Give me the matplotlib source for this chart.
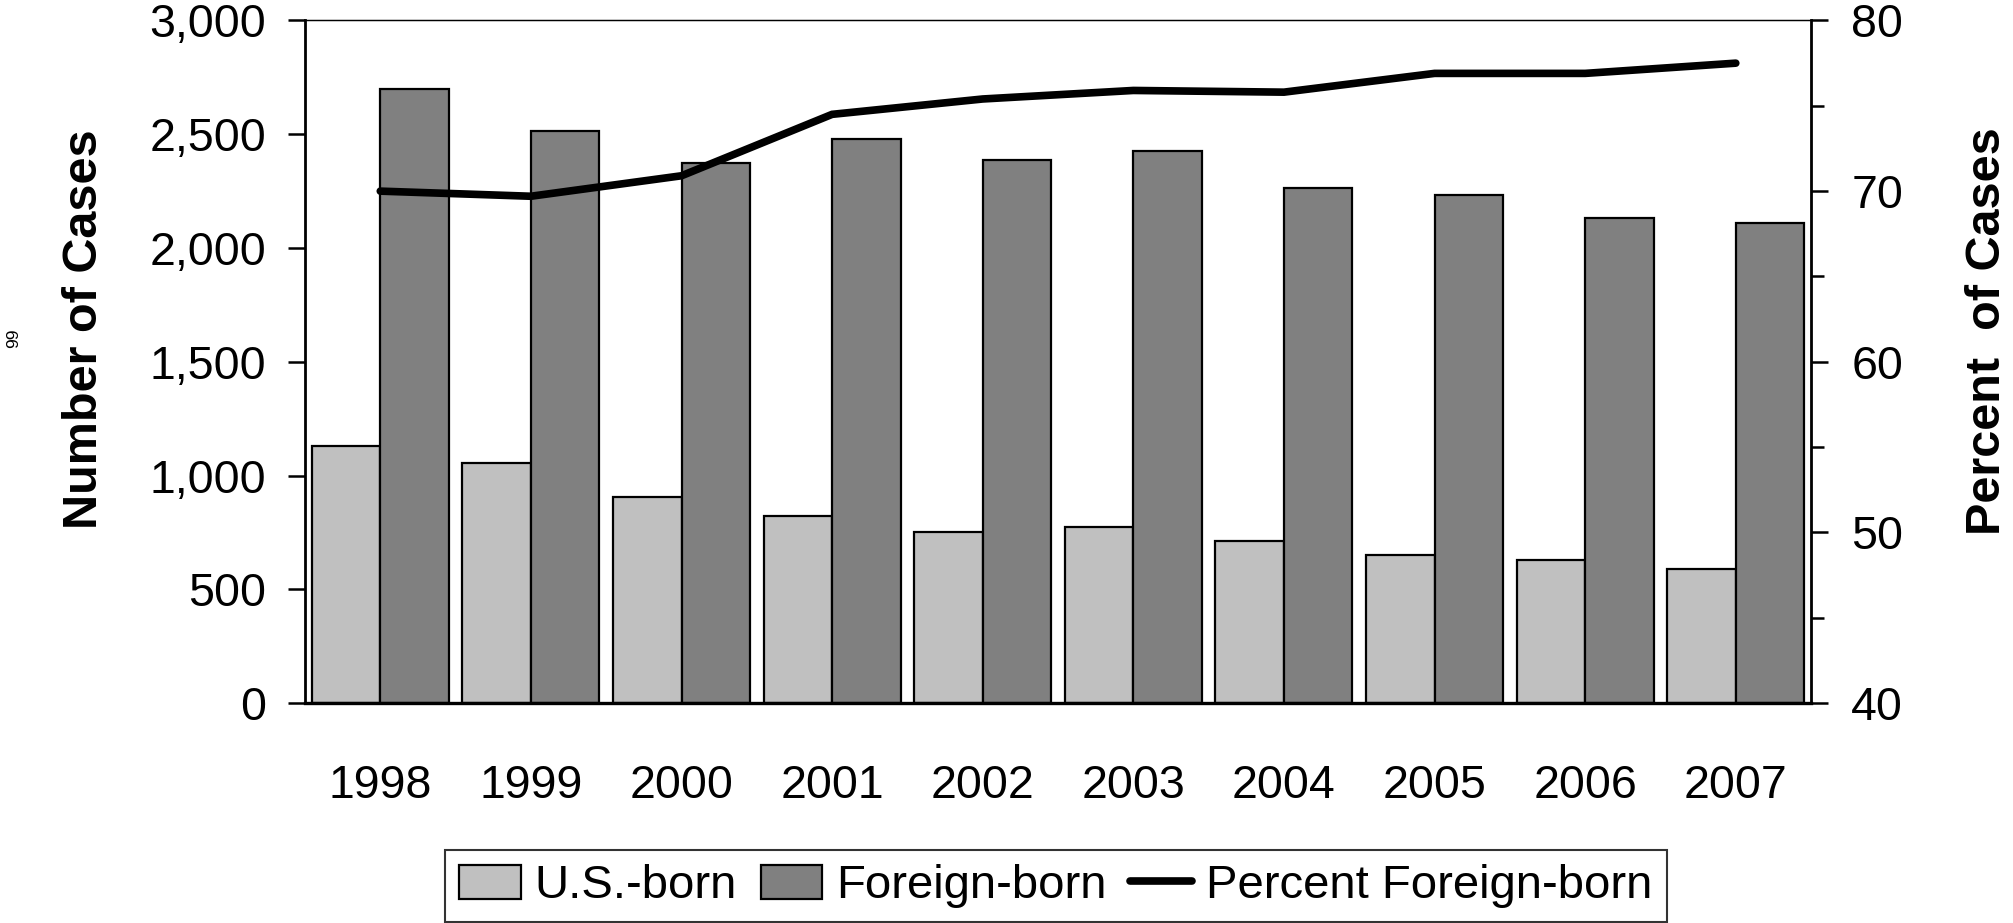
import numpy as np
import matplotlib
matplotlib.use("Agg")
import matplotlib.pyplot as plt
from matplotlib.ticker import FuncFormatter, MultipleLocator

plt.rcParams['font.family'] = ['Liberation Sans', 'DejaVu Sans']

# Data
years = ['1998', '1999', '2000', '2001', '2002', '2003', '2004', '2005', '2006', '2007']
us_born = [1128, 1056, 904, 823, 750, 772, 712, 650, 629, 588]
foreign_born = [2701, 2514, 2373, 2478, 2387, 2427, 2264, 2234, 2131, 2111]
pct_foreign = [70.0, 69.7, 70.9, 74.5, 75.4, 75.9, 75.8, 76.9, 76.9, 77.5]

fig = plt.figure(figsize=(20.13, 9.23), dpi=100)
ax = fig.add_axes([0.1515, 0.2383, 0.7482, 0.7395])
ax2 = ax.twinx()

x = np.arange(len(years))
w = 0.455
ax.bar(x - w / 2, us_born, w, color='#C0C0C0', edgecolor='black', linewidth=1.6,
       label='U.S.-born', zorder=2)
ax.bar(x + w / 2, foreign_born, w, color='#808080', edgecolor='black', linewidth=1.6,
       label='Foreign-born', zorder=2)
line, = ax2.plot(x, pct_foreign, color='black', linewidth=5.5, solid_capstyle='round',
                 solid_joinstyle='miter', label='Percent Foreign-born')

ax.set_xlim(-0.5, len(years) - 0.5)
ax.set_ylim(0, 3000)
ax2.set_ylim(40, 80)

ax.set_yticks(np.arange(0, 3001, 500))
ax.yaxis.set_major_formatter(FuncFormatter(lambda v, p: f'{int(v):,}'))
ax2.set_yticks(np.arange(40, 81, 10))
ax2.yaxis.set_minor_locator(MultipleLocator(5))

ax.set_xticks(x)
ax.set_xticklabels(years)
ax.tick_params(axis='x', length=0, pad=44, labelsize=33.5)
ax.tick_params(axis='y', direction='out', length=12, width=1.8, pad=16, labelsize=33.5)
ax2.tick_params(axis='y', which='major', direction='out', length=12, width=1.8, pad=17,
                labelsize=33.5)
ax2.tick_params(axis='y', which='minor', direction='out', length=9, width=1.8)

for a in (ax, ax2):
    a.spines['top'].set_linewidth(0.9)
ax.spines['left'].set_linewidth(2.0)
ax.spines['bottom'].set_linewidth(2.4)
ax2.spines['right'].set_linewidth(2.0)
ax2.spines['left'].set_visible(False)
ax2.spines['bottom'].set_visible(False)

fig.text(0.0422, 0.6435, 'Number of Cases', rotation=90, ha='center', va='center',
         fontsize=35, fontweight='bold')
fig.text(0.9875, 0.641, 'Percent  of Cases', rotation=90, ha='center', va='center',
         fontsize=35, fontweight='bold')
fig.text(0.0068, 0.633, '99', rotation=90, ha='center', va='center', fontsize=12.5)

handles, labels = ax.get_legend_handles_labels()
handles.append(line)
labels.append(line.get_label())
leg = fig.legend(handles, labels, loc='upper center', bbox_to_anchor=(0.5245, 0.079),
                 ncol=3, fontsize=34, frameon=True, fancybox=False, edgecolor='black',
                 handlelength=1.3, handleheight=0.74, handletextpad=0.3,
                 columnspacing=0.5, borderpad=0.3, borderaxespad=0)
leg.get_frame().set_linewidth(1.5)

plt.savefig('out.png', dpi=100)
